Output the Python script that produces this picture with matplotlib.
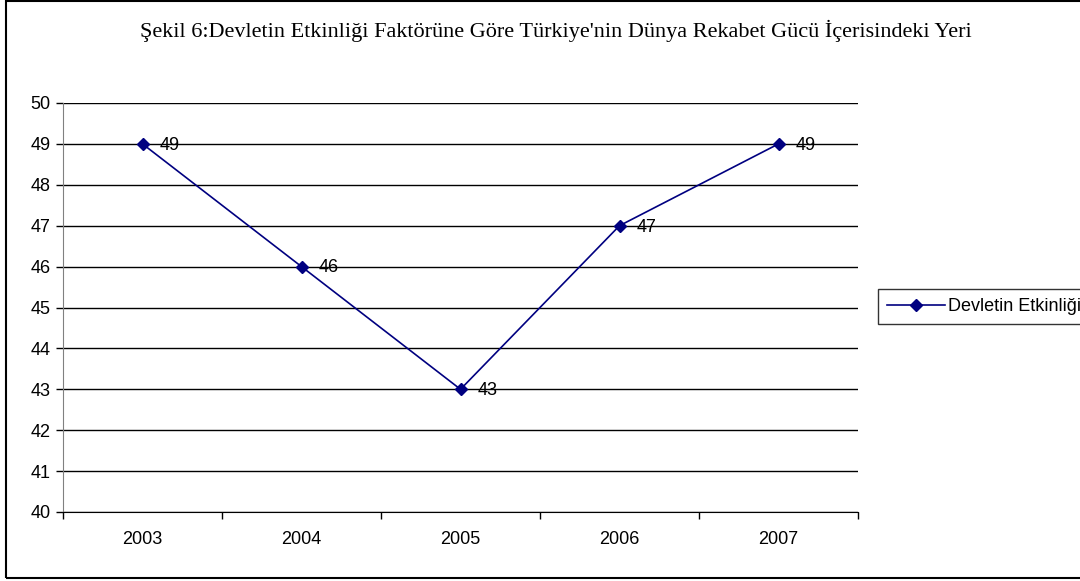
import matplotlib
matplotlib.use("Agg")
import matplotlib.pyplot as plt
from matplotlib.patches import Rectangle

# veriler
years = ["2003", "2004", "2005", "2006", "2007"]
values = [49, 46, 43, 47, 49]
y_ticks = list(range(40, 51))
series_name = "Devletin Etkinliği"
title = "Şekil 6:Devletin Etkinliği Faktörüne Göre Türkiye'nin Dünya Rekabet Gücü İçerisindeki Yeri"

W, H = 1080, 581
fig = plt.figure(figsize=(W / 100, H / 100), dpi=100)
plt.rcParams["font.family"] = ["Liberation Sans", "DejaVu Sans"]

# dış çerçeve (sağ kenar resmin dışında)
fig.patches.append(Rectangle((6 / W, 1 - 578 / H), 1.2, 577 / H,
                             transform=fig.transFigure, fill=False,
                             edgecolor="black", linewidth=1.5))

left, right, top, bottom = 63, 858, 103, 512
ax = fig.add_axes([left / W, 1 - bottom / H, (right - left) / W, (bottom - top) / H])

x = list(range(len(years)))
ax.plot(x, values, color="#000080", marker="D", markersize=6, linewidth=1.2,
        label=series_name)
for xi, v in zip(x, values):
    ax.annotate(str(v), (xi, v), xytext=(12, -1), textcoords="offset points",
                va="center", ha="left", fontsize=13)

ax.set_xlim(-0.5, len(years) - 0.5)
ax.set_ylim(40, 50)
ax.set_yticks(y_ticks)
ax.set_yticklabels([str(t) for t in y_ticks], fontsize=13)
ax.set_xticks(x)
ax.set_xticklabels(years, fontsize=13)
ax.set_xticks([i + 0.5 for i in range(-1, len(years))], minor=True)
ax.tick_params(axis="x", which="major", length=0, pad=14)
ax.tick_params(axis="x", which="minor", length=5, direction="out", width=1)
ax.tick_params(axis="y", length=5, direction="out", width=1, pad=4)
ax.yaxis.grid(True, color="black", linewidth=1)
ax.set_axisbelow(True)
for s in ["top", "right"]:
    ax.spines[s].set_visible(False)
ax.spines["left"].set_color("#808080")
ax.spines["bottom"].set_color("black")

fig.text(556 / W, 1 - 31 / H, title, ha="center", va="center", fontsize=16,
         family="Liberation Serif")

leg = fig.legend(loc="upper left", bbox_to_anchor=(878 / W, 1 - 289 / H),
                 fontsize=13, frameon=True, fancybox=False, borderpad=0.5,
                 handlelength=3.2, handletextpad=0.2, borderaxespad=0)
leg.get_frame().set_edgecolor("black")
leg.get_frame().set_linewidth(1)

fig.savefig("out.png", dpi=100)
